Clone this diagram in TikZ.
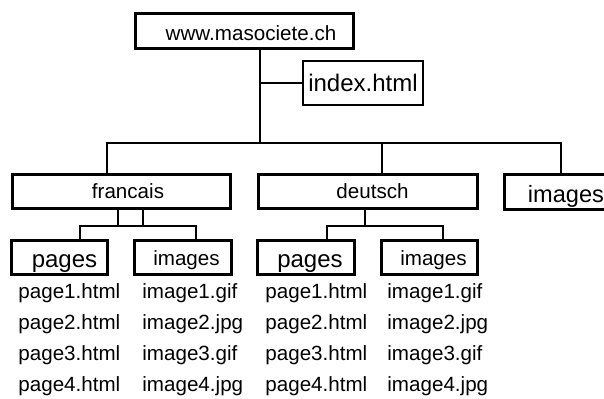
\documentclass[tikz,border=0pt]{standalone}
\usepackage{fontspec}
\setmainfont{Liberation Sans}
\usetikzlibrary{positioning}

\begin{document}
\begin{tikzpicture}[
    x=0.5pt,y=-0.5pt,
    dossier/.style={
        draw,
        line width=1.5pt,
        inner sep=0pt,
        minimum height=17pt,
        text height=8.5pt,
        text depth=1.5pt,
        font=\fontsize{10.3}{12}\selectfont
      },
    fichier/.style={
        draw,
        line width=0.6pt,
        inner sep=0pt,
        text height=10pt,
        text depth=2pt,
        font=\fontsize{12}{14}\selectfont
      },
    bas/.style={text height=#1, text depth=2pt},
    liste/.style={
        anchor=base west,
        inner sep=0pt,
        font=\fontsize{10.3}{12}\selectfont
      },
    lien/.style={line width=0.75pt}
  ]
  % cadre de l'image
  \useasboundingbox (0,0) rectangle (604,398);
  \clip (0,0) rectangle (604,398);

  % racine du site
  \node[dossier,minimum width=109pt,minimum height=17.5pt,text height=11pt] (racine) at (244,30.5)
    {\hspace{7pt}www.masociete.ch};
  \node[fichier,minimum width=60pt,minimum height=22pt] (index) at (363,83) {index.html};

  % dossiers du premier niveau
  \node[dossier,minimum width=109pt] (francais) at (121,191) {\hspace{7pt}francais};
  \node[dossier,minimum width=109.5pt] (deutsch) at (367.5,191) {\hspace{5pt}deutsch};
  \node[dossier,minimum width=68pt,minimum height=17.5pt,bas=12.5pt,font=\fontsize{11.8}{14}\selectfont]
    (images) at (572,191.5) {\hspace{-6pt}images};

  % sous-dossiers
  \node[dossier,minimum width=48pt,bas=12pt,font=\fontsize{12}{14}\selectfont] (frpages) at (59,257)
    {\hspace{5.5pt}pages};
  \node[dossier,minimum width=48.5pt,bas=10pt] (frimages) at (182.5,257)
    {\hspace{4pt}images};
  \node[dossier,minimum width=48.5pt,bas=12pt,font=\fontsize{12}{14}\selectfont] (depages) at (305.5,257)
    {\hspace{4.5pt}pages};
  \node[dossier,minimum width=48pt,bas=10pt] (deimages) at (429,257)
    {\hspace{4.5pt}images};

  % listes des fichiers
  \foreach \i/\ext in {1/gif,2/jpg,3/gif,4/jpg}{
      \node[liste] (frp\i) at (18,{298+31*(\i-1)}) {page\i.html};
      \node[liste] (fri\i) at (142,{298+31*(\i-1)}) {image\i.\ext};
      \node[liste] (dep\i) at (265,{298+31*(\i-1)}) {page\i.html};
      \node[liste] (dei\i) at (387,{298+31*(\i-1)}) {image\i.\ext};
    }

  % liaisons depuis la racine
  \coordinate (tronc) at (260,143);
  \coordinate (bg) at (107,143);
  \coordinate (bm) at (382,143);
  \coordinate (bd) at (561,143);
  \draw[lien] (racine.south -| tronc) -- (tronc);
  \draw[lien] (index.west) -- (index.west -| tronc);
  \draw[lien] (francais.north -| bg) -- (bg) -- (bd) -- (bd |- images.north);
  \draw[lien] (bm) -- (bm |- deutsch.north);

  % liaisons sous francais
  \coordinate (fa) at (118,226);
  \coordinate (fb) at (143,226);
  \coordinate (fg) at (80,226);
  \coordinate (fd) at (196,226);
  \draw[lien] (francais.south -| fa) -- (fa);
  \draw[lien] (francais.south -| fb) -- (fb);
  \draw[lien] (frpages.north -| fg) -- (fg) -- (fd) -- (fd |- frimages.north);

  % liaisons sous deutsch
  \coordinate (da) at (365,226);
  \coordinate (dg) at (327,226);
  \coordinate (dd) at (443,226);
  \draw[lien] (deutsch.south -| da) -- (da);
  \draw[lien] (depages.north -| dg) -- (dg) -- (dd) -- (dd |- deimages.north);

\end{tikzpicture}
\end{document}
